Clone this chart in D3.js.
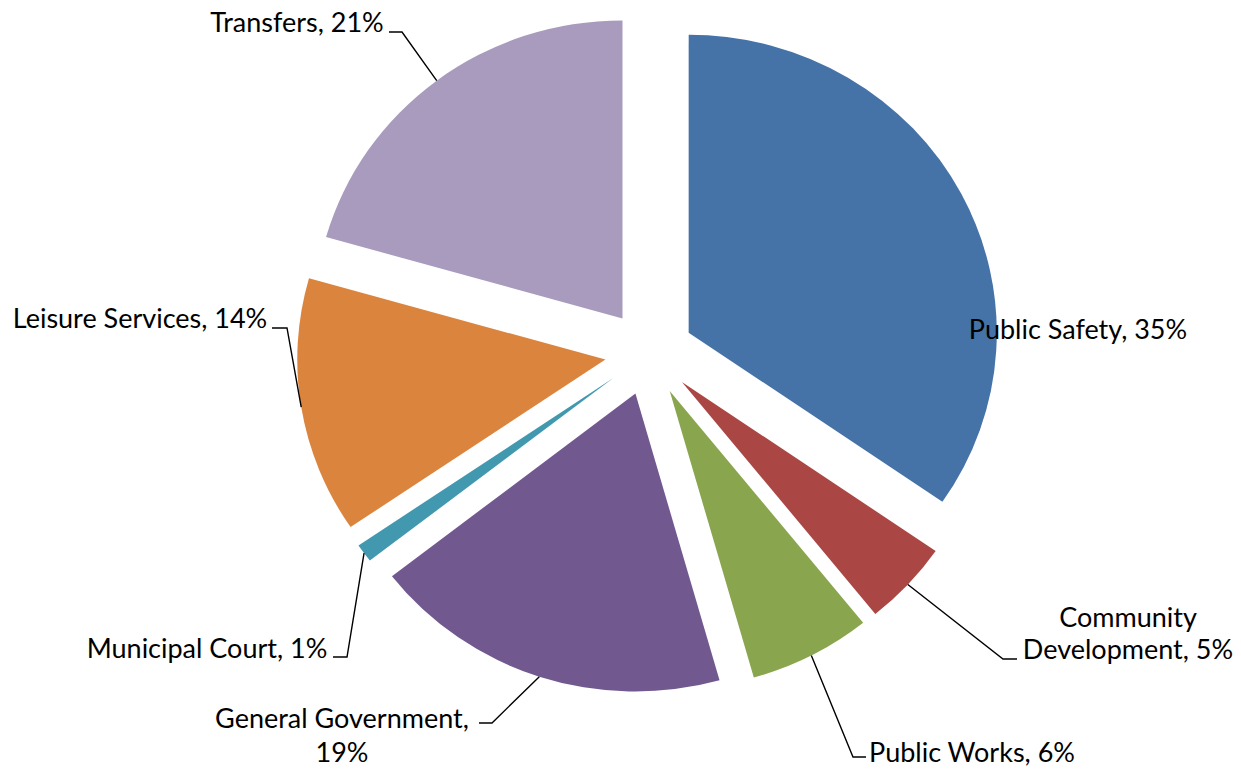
<!DOCTYPE html>
<html>
<head>
<meta charset="utf-8">
<script src="https://cdn.jsdelivr.net/npm/d3@7"></script>
<style>
  html, body { margin: 0; padding: 0; background: #ffffff; }
  svg { display: block; }
  .label { font-family: Lato, "Open Sans", sans-serif; font-size: 27px; fill: #000; }
  .leader { fill: none; stroke: #000; stroke-width: 1.4; }
</style>
</head>
<body>
<svg id="chart" width="1241" height="769"></svg>
<script>
// Budget expenditure shares by function (percent of total)
const categories = [
  "Public Safety",
  "Community Development",
  "Public Works",
  "General Government",
  "Municipal Court",
  "Leisure Services",
  "Transfers"
];
const shares = [34.6, 4.6, 6.4, 18.9, 1.0, 13.9, 20.6];
const sliceColors = ["#4572A7", "#AA4643", "#89A54E", "#71588F", "#4198AF", "#DB843D", "#A99BBD"];

// Geometry of the exploded pie
const center = { x: 649.3, y: 352.7 };
const stretchX = 1.034;      // plot area is slightly wider than tall
const radius = 298;
const explode = 43;

// Label placement: text anchor point, line wrapping, elbow of the leader line
const labelLayout = [
  { x: 1078, y: 339, wrap: null, leader: null },
  { x: 1128, y: 627, wrap: "name", lineGap: 31.5, leader: [[1003, 659], [1017, 659]] },
  { x: 972, y: 762, wrap: null, leader: [[853, 757], [866, 757]] },
  { x: 342, y: 728, wrap: "value", lineGap: 33.5, leader: [[492, 723], [479, 723]] },
  { x: 207, y: 658, wrap: null, leader: [[347, 657], [333, 657]] },
  { x: 140, y: 328, wrap: null, leader: [[287, 328], [272, 328]] },
  { x: 297, y: 32, wrap: null, leader: [[402, 32], [389, 32]] }
];

const total = d3.sum(shares);
const pctText = v => Math.round(v / total * 100) + "%";

const svg = d3.select("#chart");

const pie = d3.pie().sort(null).value(d => d).startAngle(0).endAngle(2 * Math.PI);
const arcs = pie(shares);
const arcGen = d3.arc().innerRadius(0).outerRadius(radius);

const pieGroup = svg.append("g")
  .attr("transform", `translate(${center.x},${center.y}) scale(${stretchX},1)`);

const mid = a => (a.startAngle + a.endAngle) / 2;

pieGroup.selectAll("path.slice")
  .data(arcs)
  .join("path")
  .attr("class", "slice")
  .attr("fill", (d, i) => sliceColors[i])
  .attr("transform", d => `translate(${explode * Math.sin(mid(d))},${-explode * Math.cos(mid(d))})`)
  .attr("d", arcGen);

// Outer mid-point of a slice's arc, in page coordinates
function arcTip(a) {
  const m = mid(a);
  const lx = (explode + radius) * Math.sin(m);
  const ly = -(explode + radius) * Math.cos(m);
  return [center.x + stretchX * lx, center.y + ly];
}

// Leader lines
const line = d3.line();
arcs.forEach((a, i) => {
  const lay = labelLayout[i];
  if (!lay.leader) return;
  svg.append("path")
    .attr("class", "leader")
    .attr("d", line([arcTip(a), ...lay.leader]));
});

// Labels
arcs.forEach((a, i) => {
  const lay = labelLayout[i];
  const name = categories[i];
  const pct = pctText(shares[i]);
  let lines;
  if (lay.wrap === "name") {
    const sp = name.indexOf(" ");
    lines = [name.slice(0, sp), name.slice(sp + 1) + ", " + pct];
  } else if (lay.wrap === "value") {
    lines = [name + ",", pct];
  } else {
    lines = [name + ", " + pct];
  }
  const t = svg.append("text")
    .attr("class", "label")
    .attr("text-anchor", "middle")
    .attr("x", lay.x)
    .attr("y", lay.y);
  lines.forEach((ln, k) => {
    t.append("tspan")
      .attr("x", lay.x)
      .attr("dy", k === 0 ? 0 : lay.lineGap)
      .text(ln);
  });
});
</script>
</body>
</html>
